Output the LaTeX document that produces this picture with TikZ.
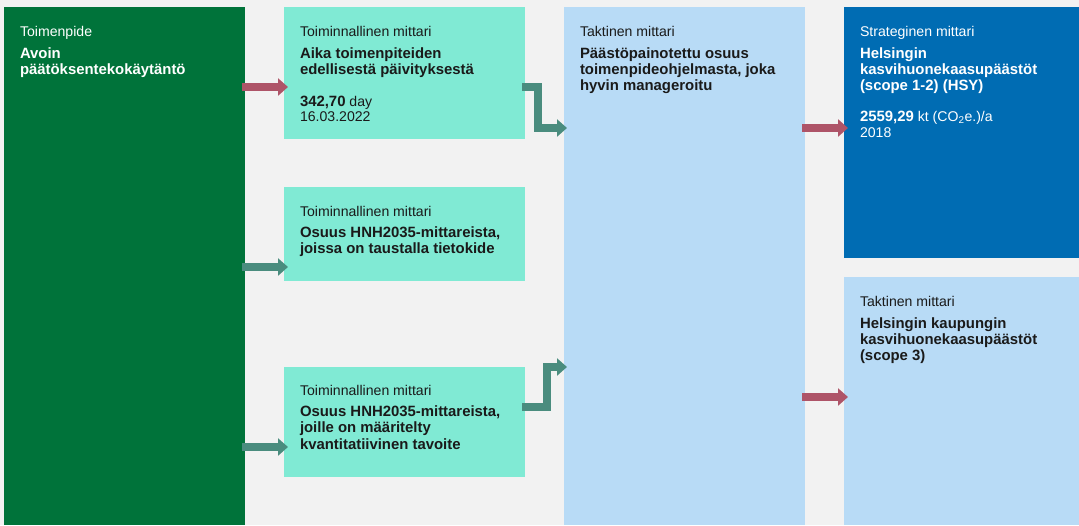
\documentclass[tikz,border=0pt]{standalone}
\usepackage{fontspec}
\setmainfont{Liberation Sans}
\usetikzlibrary{arrows.meta,calc}
\definecolor{bg}{HTML}{F2F2F2}
\definecolor{actgreen}{HTML}{00733A}
\definecolor{opteal}{HTML}{80EAD4}
\definecolor{taklight}{HTML}{B8DBF6}
\definecolor{stratblue}{HTML}{006CB3}
\definecolor{arrred}{HTML}{AE5468}
\definecolor{arrteal}{HTML}{4A8C7E}
\definecolor{txtdark}{HTML}{1A1A1A}
\begin{document}
\begin{tikzpicture}[x=1pt,y=-1pt,
  box/.style={draw=none, inner sep=0pt, outer sep=0pt, anchor=north west},
  lbl/.style={anchor=base west, inner sep=0pt, outer sep=0pt, font=\fontsize{14.1}{16}\selectfont},
  ttl/.style={anchor=base west, inner sep=0pt, outer sep=0pt, font=\fontsize{14.9}{16}\selectfont\bfseries},
  arrbase/.style={line width=7.5pt, line join=miter, -{Triangle[length=10pt,width=17pt]}},
  redarr/.style={arrbase, draw=arrred, color=arrred},
  tealarr/.style={arrbase, draw=arrteal, color=arrteal}]
\fill[bg] (0,0) rectangle (1079,525);
\useasboundingbox (0,0) rectangle (1079,525);
% boxes
\node[box, fill=actgreen, minimum width=241pt, minimum height=518pt] (act) at (4,7) {};
\node[box, fill=opteal, minimum width=241pt, minimum height=132pt] (t1) at (284,7) {};
\node[box, fill=opteal, minimum width=241pt, minimum height=94pt] (t2) at (284,187) {};
\node[box, fill=opteal, minimum width=241pt, minimum height=110pt] (t3) at (284,367) {};
\node[box, fill=taklight, minimum width=241pt, minimum height=518pt] (mid) at (564,7) {};
\node[box, fill=stratblue, minimum width=235pt, minimum height=251pt] (s1) at (844,7) {};
\node[box, fill=taklight, minimum width=235pt, minimum height=248pt] (s2) at (844,277) {};
% texts: action
\node[lbl, text=white] (actl) at (20,36) {Toimenpide};
\node[ttl, text=white] (act1) at (20,58) {Avoin};
\node[ttl, text=white] (act2) at (20,74) {päätöksentekokäytäntö};
% t1
\node[lbl, text=txtdark] (t1l) at (300,36) {Toiminnallinen mittari};
\node[ttl, text=txtdark] (t1a) at (300,58) {Aika toimenpiteiden};
\node[ttl, text=txtdark] (t1b) at (300,74) {edellisestä päivityksestä};
\node[lbl, text=txtdark] (t1v) at (300,106) {\fontsize{14.9}{16}\selectfont\bfseries 342,70\fontsize{14.1}{16}\selectfont\mdseries{} day};
\node[lbl, text=txtdark] (t1d) at (300,121) {16.03.2022};
% t2
\node[lbl, text=txtdark] (t2l) at (300,216) {Toiminnallinen mittari};
\node[ttl, text=txtdark] (t2a) at (300,237) {Osuus HNH2035-mittareista,};
\node[ttl, text=txtdark] (t2b) at (300,253) {joissa on taustalla tietokide};
% t3
\node[lbl, text=txtdark] (t3l) at (300,395) {Toiminnallinen mittari};
\node[ttl, text=txtdark] (t3a) at (300,416) {Osuus HNH2035-mittareista,};
\node[ttl, text=txtdark] (t3b) at (300,432) {joille on määritelty};
\node[ttl, text=txtdark] (t3c) at (300,449) {kvantitatiivinen tavoite};
% mid
\node[lbl, text=txtdark] (ml) at (580,36) {Taktinen mittari};
\node[ttl, text=txtdark] (ma) at (580,58) {Päästöpainotettu osuus};
\node[ttl, text=txtdark] (mb) at (580,74) {toimenpideohjelmasta, joka};
\node[ttl, text=txtdark] (mc) at (580,90) {hyvin manageroitu};
% s1
\node[lbl, text=white] (s1l) at (860,36) {Strateginen mittari};
\node[ttl, text=white] (s1a) at (860,58) {Helsingin};
\node[ttl, text=white] (s1b) at (860,74) {kasvihuonekaasupäästöt};
\node[ttl, text=white] (s1c) at (860,90) {(scope 1-2) (HSY)};
\node[lbl, text=white] (s1v) at (860,121) {\fontsize{14.9}{16}\selectfont\bfseries 2559,29\fontsize{14.1}{16}\selectfont\mdseries{} kt (CO\textsubscript{2}e.)/a};
\node[lbl, text=white] (s1d) at (860,137) {2018};
% s2
\node[lbl, text=txtdark] (s2l) at (860,306) {Taktinen mittari};
\node[ttl, text=txtdark] (s2a) at (860,328) {Helsingin kaupungin};
\node[ttl, text=txtdark] (s2b) at (860,344) {kasvihuonekaasupäästöt};
\node[ttl, text=txtdark] (s2c) at (860,360) {(scope 3)};
% arrows
\draw[redarr] ($(act.north east)+(-3,80)$) -- ($(t1.north west)+(4,80)$);
\draw[tealarr] ($(act.north east)+(-3,260)$) -- ($(t2.north west)+(4,80)$);
\draw[tealarr] ($(act.north east)+(-3,440)$) -- ($(t3.north west)+(4,80)$);
\draw[tealarr] ($(t1.north east)+(-3,80)$) -- ++(16,0) |- ($(mid.north west)+(3,121)$);
\draw[tealarr] ($(t3.north east)+(-3,40)$) -- ++(25,0) |- ($(mid.north west)+(3,360)$);
\draw[redarr] ($(mid.north east)+(-3,121)$) -- ($(s1.north west)+(4,121)$);
\draw[redarr] ($(mid.north east)+(-3,390)$) -- ($(s2.north west)+(4,120)$);
\end{tikzpicture}
\end{document}
